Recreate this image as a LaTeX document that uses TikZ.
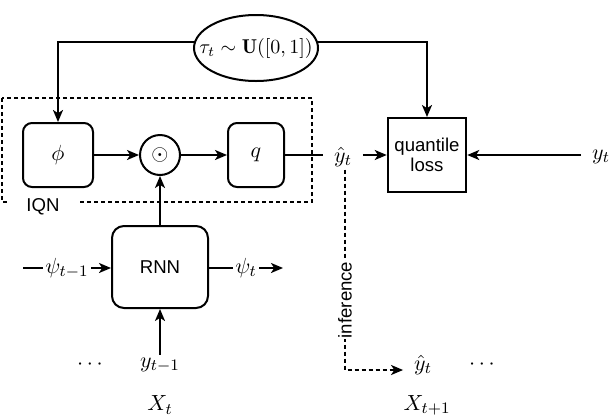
\documentclass[tikz,border=0pt]{standalone}
\usepackage{fontspec}
\newfontfamily\arial{Liberation Sans}
\usetikzlibrary{arrows.meta,shapes.geometric,calc}
\begin{document}
\begin{tikzpicture}[x=0.5pt,y=-0.5pt,
  every path/.style={line width=1pt},
  arr/.style={-{Stealth[length=6pt,width=5pt,inset=1.6pt]}},
  dsh/.style={dash pattern=on 2pt off 1.5pt},
  mth/.style={font=\fontsize{10.95}{13}\selectfont, inner sep=1pt},
  sf/.style={font=\arial\fontsize{9.3}{11}\selectfont},
  rbox/.style={draw, rounded corners=4.5pt, minimum width=35pt, minimum height=32pt},
  lbl/.style={fill=white, inner sep=0.5pt, mth}]
\useasboundingbox (0,0) rectangle (614,418);
% IQN dashed box
\draw[dsh] (2,98) rectangle (312,202);
\node[sf, fill=white, inner xsep=8.5pt, inner ysep=1pt] (iqn) at (43,207) {IQN};
% nodes
\node[draw, ellipse, minimum width=62pt, minimum height=33pt, inner sep=0pt] (ell) at (256,48) {};
\node[font=\fontsize{10}{12}\selectfont, inner sep=0pt] (elltext) at (ell.center) {$\tau_t\sim\mathbf{U}([0,1])$};
\node[rbox, mth] (phi) at (58,155) {$\phi$};
\node[draw, circle, minimum size=20pt, inner sep=0pt, mth] (odot) at (160,155) {$\odot$};
\node[rbox, minimum width=28pt, mth] (q) at (256,155) {$q$};
\node[mth, inner xsep=5pt] (yhat) at (343,157) {$\hat{y}_t$};
\node[draw, minimum width=35pt, minimum height=37pt, align=center, sf] (ql) at (427,155) {quantile\\[-1pt]loss};
\node[mth, inner xsep=5pt] (yt) at (601,157) {$y_t$};
\node[draw, rounded corners=6pt, minimum width=48pt, minimum height=41pt, sf] (rnn) at (160,267) {RNN};
\node[mth] (ylast) at (160,365) {$y_{t-1}$};
\node[mth] (dotsL) at (90,365) {$\cdots$};
\node[mth] (Xt) at (160,405) {$X_t$};
\node[mth, inner xsep=5pt] (yhat2) at (423,365) {$\hat{y}_t$};
\node[mth] (dotsR) at (482,365) {$\cdots$};
\node[mth] (Xt1) at (427,405) {$X_{t+1}$};
\coordinate (eL) at ($(ell.center)+(-61,-6)$);
\coordinate (eR) at ($(ell.center)+(61,-6)$);
\coordinate (psiL) at (23,268);
\coordinate (psiR) at (283,268);
\coordinate (corner) at (345,370);
% connectors
\draw[arr] (eL) -| (phi.north);
\draw[arr] (eR) -| (ql.north);
\draw[arr] (phi) -- (odot);
\draw[arr] (odot) -- (q);
\draw (q.east) -- (q.east -| yhat.west);
\draw[arr] (q.east -| yhat.east) -- (q.east -| ql.west);
\draw[arr] (yt.west |- ql.east) -- (ql.east);
\draw[arr] (rnn) -- (odot);
\draw[arr] (psiL) -- node[lbl] {$\psi_{t-1}$} (rnn.west |- psiL);
\draw[arr] (rnn.east |- psiR) -- node[lbl] {$\psi_t$} (psiR);
\draw[arr] (ylast.north) -- (rnn.south);
\draw[dsh, arr] (corner |- yhat.south) -- node[pos=0.65, sf, rotate=90, fill=white, inner sep=0.3pt] {inference} (corner) -- (corner -| yhat2.west);
\end{tikzpicture}
\end{document}
